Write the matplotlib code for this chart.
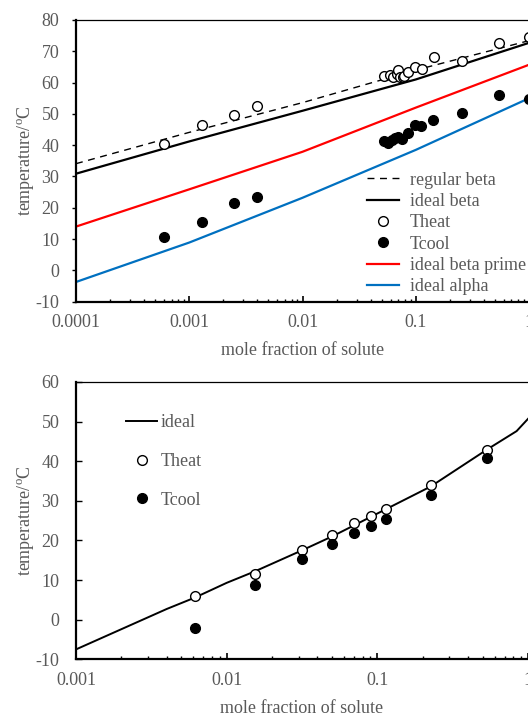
import matplotlib
matplotlib.use("Agg")
import matplotlib.pyplot as plt
from matplotlib.ticker import LogLocator, FixedLocator, FixedFormatter, NullFormatter

plt.rcParams['font.family'] = ['Liberation Serif', 'DejaVu Serif']
plt.rcParams['mathtext.fontset'] = 'custom'
plt.rcParams['mathtext.rm'] = 'Liberation Serif'
plt.rcParams['axes.unicode_minus'] = False

GRAY = '#595959'

# ---------------- top chart data ----------------
curve_x = [0.0001, 0.001, 0.01, 0.1, 1.0]
regular_beta = [34.1, 44.1, 53.6, 64.0, 73.4]
ideal_beta = [30.9, 41.2, 51.0, 61.0, 72.7]
ideal_beta_prime = [14.0, 25.9, 37.9, 52.0, 65.7]
ideal_alpha = [-3.7, 8.9, 23.2, 38.5, 55.0]

theat_x = [0.0006, 0.0013, 0.0025, 0.0040, 0.0522, 0.059, 0.0628, 0.0677, 0.070,
           0.0724, 0.0769, 0.0785, 0.0847, 0.0982, 0.1138, 0.1435, 0.257, 0.54, 1.0]
theat_y = [40.4, 46.3, 49.6, 52.5, 62.2, 62.5, 61.9, 62.8, 64.1,
           61.8, 61.8, 62.2, 63.5, 65.1, 64.4, 68.1, 67.0, 72.8, 74.7]
tcool_x = [0.0006, 0.0013, 0.0025, 0.0040, 0.0522, 0.057, 0.0611, 0.0654, 0.070,
           0.075, 0.0857, 0.098, 0.1124, 0.1425, 0.257, 0.54, 1.0]
tcool_y = [10.6, 15.4, 21.4, 23.6, 41.2, 40.7, 41.7, 42.3, 42.6,
           41.9, 44.0, 46.5, 46.0, 47.9, 50.2, 56.1, 54.7]

top_xticks = [0.0001, 0.001, 0.01, 0.1, 1]
top_xticklabels = ['0.0001', '0.001', '0.01', '0.1', '1']
top_yticks = [-10, 0, 10, 20, 30, 40, 50, 60, 70, 80]

# ---------------- bottom chart data ----------------
ideal_x = [0.001, 0.002, 0.004, 0.00617, 0.01, 0.0154, 0.0316, 0.05, 0.07, 0.1,
           0.2256, 0.537, 0.84, 1.0]
ideal_y = [-7.5, -2.4, 2.7, 5.6, 9.3, 12.2, 17.5, 21.0, 23.8, 26.8,
           33.6, 43.0, 47.6, 50.7]
b_theat_x = [0.00617, 0.0154, 0.0316, 0.0498, 0.070, 0.0903, 0.1136, 0.2256, 0.537]
b_theat_y = [6.0, 11.6, 17.6, 21.5, 24.5, 26.2, 28.0, 34.0, 42.9]
b_tcool_x = [0.00617, 0.0154, 0.0316, 0.0498, 0.070, 0.0903, 0.1136, 0.2256, 0.537]
b_tcool_y = [-2.0, 8.8, 15.2, 19.0, 21.8, 23.7, 25.4, 31.5, 40.8]

bot_xticks = [0.001, 0.01, 0.1, 1]
bot_xticklabels = ['0.001', '0.01', '0.1', '1']
bot_yticks = [-10, 0, 10, 20, 30, 40, 50, 60]

FS = 13
W, H = 528, 716
fig = plt.figure(figsize=(W / 100, H / 100), dpi=100)

def frac(x0, y0, x1, y1):
    return [x0 / W, 1 - y1 / H, (x1 - x0) / W, (y1 - y0) / H]

ax1 = fig.add_axes(frac(76, 20, 529, 301.7))
ax2 = fig.add_axes(frac(76, 382, 528, 659.3))

ms = 7
# top
ax1.plot(curve_x, regular_beta, color='black', lw=1.0, ls=(0, (5, 4)), label='regular beta')
ax1.plot(curve_x, ideal_beta, color='black', lw=1.6, label='ideal beta')
ax1.plot(theat_x, theat_y, 'o', ms=ms, mfc='white', mec='black', mew=1.0, label='Theat', zorder=4)
ax1.plot(tcool_x, tcool_y, 'o', ms=ms, mfc='black', mec='black', mew=1.0, label='Tcool', zorder=4)
ax1.plot(curve_x, ideal_beta_prime, color='#FF0000', lw=1.6, label='ideal beta prime')
ax1.plot(curve_x, ideal_alpha, color='#0070C0', lw=1.6, label='ideal alpha')
ax1.set_xscale('log')
ax1.set_xlim(0.0001, 1)
ax1.set_ylim(-10, 80)

# bottom
ax2.plot(ideal_x, ideal_y, color='black', lw=1.4, label='ideal')
ax2.plot(b_theat_x, b_theat_y, 'o', ms=ms, mfc='white', mec='black', mew=1.0, label='Theat', zorder=4)
ax2.plot(b_tcool_x, b_tcool_y, 'o', ms=ms, mfc='black', mec='black', mew=1.0, label='Tcool', zorder=4)
ax2.set_xscale('log')
ax2.set_xlim(0.001, 1)
ax2.set_ylim(-10, 60)

for ax, xt, xl, yt in [(ax1, top_xticks, top_xticklabels, top_yticks),
                       (ax2, bot_xticks, bot_xticklabels, bot_yticks)]:
    ax.xaxis.set_major_locator(FixedLocator(xt))
    ax.xaxis.set_major_formatter(FixedFormatter(xl))
    ax.xaxis.set_minor_locator(LogLocator(base=10, subs=range(2, 10), numticks=20))
    ax.xaxis.set_minor_formatter(NullFormatter())
    ax.set_yticks(yt)
    ax.spines['right'].set_visible(False)
    ax.spines['top'].set_linewidth(0.9)
    ax.spines['left'].set_linewidth(1.6)
    ax.spines['bottom'].set_linewidth(1.6)
    ax.tick_params(axis='x', which='major', direction='in', length=4.5, width=1.2,
                   pad=9, labelsize=FS, labelcolor=GRAY, top=False)
    ax.tick_params(axis='x', which='minor', direction='in', length=2.5, width=1.0, top=False)
    ax.set_xlabel('mole fraction of solute', fontsize=FS, color=GRAY, va='top')
    ax.set_ylabel('temperature/$^{\\rm o}$C', fontsize=FS, color=GRAY)

ax1.tick_params(axis='y', direction='out', length=3, width=1.0, pad=9, labelsize=FS, labelcolor=GRAY)
ax2.tick_params(axis='y', direction='in', length=4, width=1.0, pad=12, labelsize=FS, labelcolor=GRAY)

ax1.xaxis.set_label_coords(0.5, -0.142)
ax2.xaxis.set_label_coords(0.5, -0.148)
ax1.yaxis.set_label_coords(-0.086, 0.5)
ax2.yaxis.set_label_coords(-0.086, 0.5)

leg1 = ax1.legend(loc='upper left', bbox_to_anchor=(0.642, 0.462), frameon=False,
                  fontsize=FS, handlelength=1.8, handletextpad=0.6, labelspacing=0.24,
                  borderpad=0, borderaxespad=0)
for t in leg1.get_texts():
    t.set_color(GRAY)
leg2 = ax2.legend(loc='upper left', bbox_to_anchor=(0.111, 0.883), frameon=False,
                  fontsize=FS, handlelength=1.7, handletextpad=0.2, labelspacing=1.2,
                  borderpad=0, borderaxespad=0)
for t in leg2.get_texts():
    t.set_color(GRAY)

fig.savefig('out.png', dpi=100)
